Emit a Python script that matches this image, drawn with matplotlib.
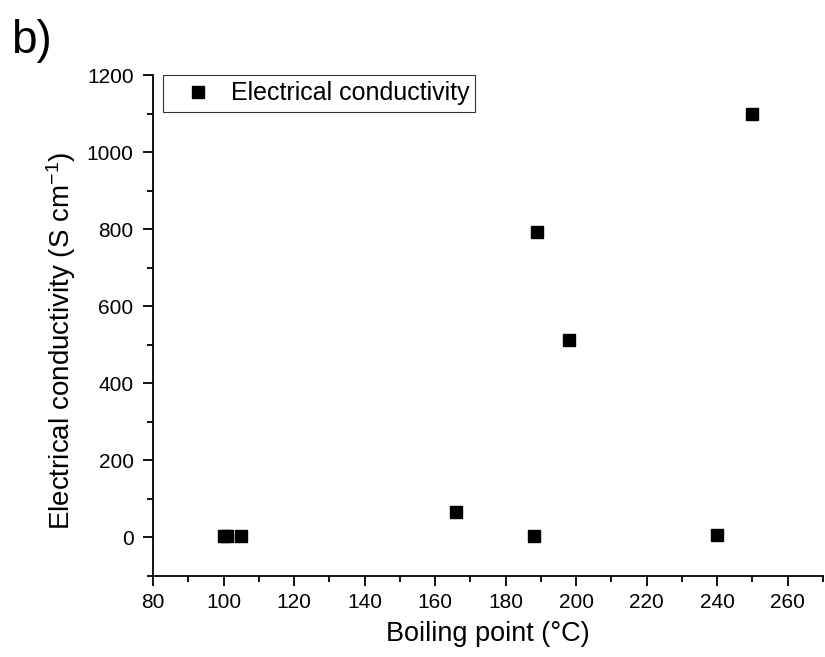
import matplotlib
matplotlib.use('Agg')
import matplotlib.pyplot as plt
from matplotlib.ticker import MultipleLocator

plt.rcParams['font.family'] = ['Liberation Sans', 'DejaVu Sans']
plt.rcParams['mathtext.fontset'] = 'custom'
plt.rcParams['mathtext.rm'] = 'Liberation Sans'
plt.rcParams['mathtext.it'] = 'Liberation Sans:italic'

# boiling point (°C) vs electrical conductivity (S/cm)
boiling_point = [100, 101, 105, 166, 188, 189, 198, 240, 250]
conductivity = [3, 5, 3, 65, 5, 793, 513, 7, 1100]

fig = plt.figure(figsize=(8.25, 6.57), dpi=100)
ax = fig.add_axes([0.1855, 0.1233, 0.812, 0.7625])

ax.plot(boiling_point, conductivity, 's', color='black', markersize=8.5,
        label='Electrical conductivity')

ax.set_xlim(80, 270)
ax.set_ylim(-100, 1200)
ax.xaxis.set_major_locator(MultipleLocator(20))
ax.xaxis.set_minor_locator(MultipleLocator(10))
ax.yaxis.set_major_locator(MultipleLocator(200))
ax.yaxis.set_minor_locator(MultipleLocator(100))

ax.spines['top'].set_visible(False)
ax.spines['right'].set_visible(False)
ax.spines['left'].set_linewidth(1.3)
ax.spines['bottom'].set_linewidth(1.3)
ax.tick_params(which='major', direction='out', length=7, width=1.3,
               labelsize=15, pad=5)
ax.tick_params(axis='y', which='major', pad=7)
ax.tick_params(which='minor', direction='out', length=4, width=1.3)

ax.set_xlabel('Boiling point (°C)', fontsize=19.5, labelpad=7)
ax.set_ylabel('Electrical conductivity (S cm$^{-1}$)', fontsize=20)
ax.yaxis.set_label_coords(-0.112, 0.469)

leg = ax.legend(loc='upper left', bbox_to_anchor=(0.015, 1.0), fontsize=18,
                frameon=True, fancybox=False, borderpad=0.25, handletextpad=0.15,
                borderaxespad=0, handlelength=2.3)
leg.get_frame().set_edgecolor('black')
leg.get_frame().set_linewidth(0.8)

fig.text(0.013, 0.92, 'b)', fontsize=33)

fig.savefig('out.png', dpi=100)
